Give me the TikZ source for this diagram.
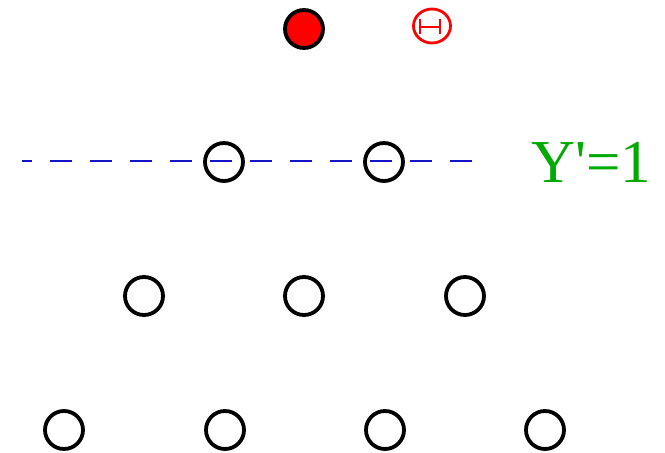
\documentclass[tikz,border=0pt]{standalone}
\usepackage{fontspec}
\usetikzlibrary{shapes.geometric}
\newfontfamily\lab{Liberation Serif}[Ligatures=TeXOff]
\definecolor{dblue}{RGB}{20,20,200}
\definecolor{lgreen}{RGB}{0,170,0}
\begin{document}
\begin{tikzpicture}[x=1pt,y=-1pt,
  site/.style={circle,draw=black,line width=3.8pt,minimum size=38pt,inner sep=0pt},
  filled/.style={site,fill=red},
  guide/.style={dblue,line width=2.4pt,dash pattern=on 22pt off 18pt,dash phase=12pt},
  hbar/.style={red,line width=2.8pt}]
\useasboundingbox (0,0) rectangle (665,453);
% dashed line
\coordinate (l0) at (22,161);
\coordinate (l1) at (478,161);
\draw[guide] (l0) -- (l1);
% top
\node[filled] (t) at (304,29) {};
% theta symbol
\node[draw=red,ellipse,line width=2.8pt,minimum width=37pt,minimum height=34pt,inner sep=0pt] (th) at (432,26) {};
\draw[hbar] (420,19) -- (420,34) (440,19) -- (440,34) (420,27) -- (440,27);
% row 2
\node[site] (a1) at (224,162) {};
\node[site] (a2) at (384,162) {};
% row 3
\node[site] (b1) at (144,296) {};
\node[site] (b2) at (304,296) {};
\node[site] (b3) at (465,296) {};
% row 4
\node[site] (c1) at (64,430) {};
\node[site] (c2) at (225,430) {};
\node[site] (c3) at (385,430) {};
\node[site] (c4) at (545,430) {};
% label
\node[lgreen,anchor=base west,inner sep=0pt,font=\lab\fontsize{61}{61}\selectfont] (y) at (531,182) {Y'=1};
\end{tikzpicture}
\end{document}
